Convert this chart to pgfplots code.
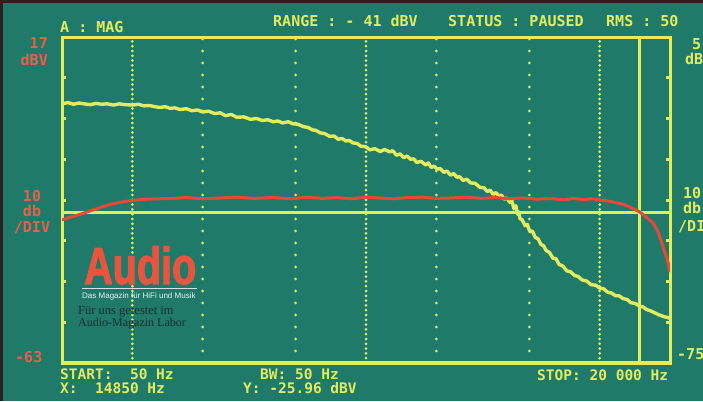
\documentclass[border=0pt]{standalone}
\usepackage{pgfplots}
\pgfplotsset{compat=1.18}
\usepackage{graphicx}
\usepackage{fontspec}
\setmainfont{Liberation Sans}
\newfontfamily\scr{DejaVu Sans Mono}
\newfontfamily\serifa{Liberation Serif}
\newfontfamily\logofont[FakeBold=2.5]{Liberation Sans Bold}
\definecolor{scrBg}{HTML}{1F7A6A}
\definecolor{scrYel}{HTML}{E2EC5E}
\definecolor{scrRed}{HTML}{E8483A}
\definecolor{lblRed}{HTML}{E8604A}
\definecolor{logoRed}{HTML}{E8553F}
\definecolor{edge}{HTML}{2B201E}
\definecolor{darkTxt}{HTML}{16302B}
\begin{document}
\begin{tikzpicture}[x=1pt,y=1pt]
\useasboundingbox (0,0) rectangle (703,401);
\clip (0,0) rectangle (703,401);
\fill[scrBg] (0,0) rectangle (703,401);
\fill[edge] (0,398) rectangle (703,401);
\fill[edge] (0,0) rectangle (3,401);
\begin{axis}[
  at={(62pt,38pt)}, anchor=south west,
  scale only axis, width=608pt, height=326pt,
  xmode=log, xmin=50, xmax=20000, ymin=-63, ymax=17,
  axis line style={line width=3pt, scrYel},
  xtick={100,1000,10000}, xticklabels={},
  xmajorgrids,
  x grid style={line width=3pt, line cap=round, dash pattern=on 0pt off 4.8pt, scrYel},
  extra x ticks={200,500,2000,5000}, extra x tick labels={},
  extra x tick style={grid=major, x grid style={line width=3pt, line cap=round, dash pattern=on 0pt off 12pt, scrYel}, major tick length=0pt},
  x tick style={draw=none},
  ytick={7,-3,-13,-23,-33,-43,-53}, yticklabels={},
  tick align=inside, major tick length=4pt,
  y tick style={line width=3pt, scrYel},
  ]
% cursor lines
\draw[scrYel, line width=3pt] (axis cs:50,-25.96) -- (axis cs:20000,-25.96);
\draw[scrYel, line width=3pt] (axis cs:14850,-63) -- (axis cs:14850,17);
% yellow trace
\addplot[scrYel, line width=3.4pt, line join=round, mark=none] coordinates {
(50,0.6) (53,0.9) (56,0.5) (59,0.8) (62,0.6) (66,0.4) (70,0.7) (74,0.5)
(78,0.6) (83,0.3) (88,0.6) (93,0.4) (100,0.3) (106,0.5) (112,0.1) (118,0.2)
(125,-0.1) (131,-0.3) (138,-0.1) (145,-0.5) (152,-0.4) (160,-0.8) (170,-0.6)
(180,-1.1) (190,-0.9) (200,-1.4) (212,-1.2) (225,-1.8) (238,-1.6) (250,-2.3)
(265,-2.0) (280,-2.7) (300,-2.6) (320,-3.2) (340,-3.0) (360,-3.5) (380,-3.3)
(400,-3.8) (420,-3.6) (440,-4.1) (465,-3.8) (487,-4.3) (510,-4.4) (540,-5.0)
(565,-5.2) (590,-5.8) (610,-5.9) (635,-6.5) (665,-6.7) (700,-7.4) (730,-7.3)
(760,-8.1) (790,-7.9) (820,-8.5) (850,-8.4) (879,-9.0) (915,-9.1) (950,-9.8)
(995,-9.9) (1040,-10.7) (1090,-10.4) (1150,-11.1) (1200,-10.6) (1265,-11.2)
(1300,-10.9) (1350,-12.0) (1400,-11.7) (1450,-12.6) (1500,-12.2) (1550,-13.0)
(1600,-12.9) (1650,-13.8) (1720,-13.5) (1800,-14.4) (1850,-13.9) (1900,-15.0)
(1960,-14.7) (2012,-15.4) (2080,-15.3) (2150,-16.2) (2220,-15.9) (2300,-16.9)
(2370,-16.5) (2450,-17.4) (2520,-17.3) (2600,-18.2) (2700,-17.9) (2800,-18.8)
(2930,-18.9) (3074,-19.9) (3200,-20.0) (3300,-20.9) (3400,-20.6) (3500,-21.6)
(3600,-21.2) (3700,-22.0) (3800,-21.8) (3900,-22.8) (4000,-22.5) (4131,-23.6)
(4200,-23.0) (4300,-25.2) (4380,-24.4) (4450,-26.5) (4500,-25.9) (4560,-27.6)
(4650,-27.8) (4800,-29.3) (4900,-29.0) (5030,-30.8) (5150,-30.6) (5300,-32.2)
(5450,-32.5) (5600,-33.9) (5750,-34.2) (5900,-35.4) (6100,-35.9) (6310,-37.3)
(6500,-37.4) (6700,-38.8) (6950,-39.2) (7240,-40.4) (7500,-40.6) (7800,-41.5)
(8100,-41.8) (8400,-42.6) (8800,-42.9) (9200,-43.8) (9600,-43.9) (10000,-44.6)
(10400,-44.8) (10800,-45.6) (11200,-45.8) (11700,-46.5) (12100,-46.5)
(12600,-47.2) (13100,-47.4) (13600,-48.2) (14200,-48.4) (14850,-49.1)
(15300,-49.2) (15900,-49.9) (16500,-50.2) (17100,-50.6) (17800,-51.1)
(18400,-51.4) (19000,-51.7) (19500,-51.8) (20000,-52.1)
};
% red trace
\addplot[scrRed, line width=3pt, line join=round, mark=none] coordinates {
(50,-27.9) (53,-27.4) (56,-27.0) (60,-26.5) (65,-25.8) (70,-25.2) (75,-24.6)
(80,-24.1) (90,-23.5) (100,-23.1) (115,-22.8) (131,-22.7) (150,-22.6)
(170,-22.4) (200,-22.7) (240,-22.5) (280,-22.3) (330,-22.6) (400,-22.4)
(480,-22.7) (560,-22.3) (650,-22.6) (750,-22.4) (870,-22.7) (1000,-22.3)
(1150,-22.5) (1300,-22.7) (1500,-22.4) (1750,-22.3) (2000,-22.6) (2300,-22.5)
(2700,-22.3) (3100,-22.6) (3600,-22.4) (4100,-22.7) (4700,-22.5) (5400,-22.8)
(6200,-22.6) (7000,-23.0) (7700,-22.6) (8500,-22.9) (9300,-22.7) (10000,-23.0)
(10700,-23.2) (11400,-23.5) (12500,-24.0) (13460,-24.7) (14850,-25.96)
(15800,-27.2) (16900,-28.6) (17800,-30.8) (18670,-34.5) (19200,-36.5)
(19600,-38.2) (20000,-40.7)
};
\end{axis}
\begin{scope}[every node/.style={inner sep=0pt, text=scrYel, font=\scr\bfseries\fontsize{15}{15}\selectfont}]
\node[anchor=base west] at (60,368) {A : MAG};
\node[anchor=base west] at (273,374) {RANGE : - 41 dBV};
\node[anchor=base west] at (448,374) {STATUS : PAUSED};
\node[anchor=base west] at (606,374) {RMS : 50};
\node[anchor=base west] at (692,351) {5};
\node[anchor=base west] at (685,336) {dBV};
\node[anchor=base west] at (683,202) {10};
\node[anchor=base west] at (683,187) {db};
\node[anchor=base west] at (678,169) {/DIV};
\node[anchor=base west] at (677,41) {-75};
\end{scope}
\begin{scope}[every node/.style={inner sep=0pt, text=scrYel, font=\scr\bfseries\fontsize{14.5}{14.5}\selectfont}]
\node[anchor=base west] at (60,21) {START:\ \ 50 Hz};
\node[anchor=base west] at (60,7) {X:\ \ 14850 Hz};
\node[anchor=base west] at (260,21) {BW: 50 Hz};
\node[anchor=base west] at (243,7) {Y: -25.96 dBV};
\node[anchor=base west] at (537,20) {STOP: 20 000 Hz};
\end{scope}
\begin{scope}[every node/.style={inner sep=0pt, text=lblRed, font=\scr\bfseries\fontsize{15}{15}\selectfont}]
\node[anchor=base east] at (48,352) {17};
\node[anchor=base east] at (48,335) {dBV};
\node[anchor=base] at (32,199) {10};
\node[anchor=base] at (32,184) {db};
\node[anchor=base] at (32,168) {/DIV};
\node[anchor=base west] at (15,38) {-63};
\end{scope}
% Audio logo
\node[anchor=base west, inner sep=0pt, text=logoRed, font=\logofont\fontsize{52}{52}\selectfont] at (84,117) {\scalebox{0.76}[1]{Audio}};
\draw[white!80!scrBg, line width=0.5pt] (82,113) -- (197,113);
\node[anchor=base west, inner sep=0pt, text=white!90!scrBg, font=\fontsize{8}{8}\selectfont] at (82,102) {Das Magazin für HiFi und Musik};
\node[anchor=base west, inner sep=0pt, text=darkTxt, font=\serifa\fontsize{12.5}{13}\selectfont] at (78,86) {Für uns getestet im};
\node[anchor=base west, inner sep=0pt, text=darkTxt, font=\serifa\fontsize{12}{13}\selectfont] at (78,74) {Audio-Magazin Labor};
\end{tikzpicture}
\end{document}
